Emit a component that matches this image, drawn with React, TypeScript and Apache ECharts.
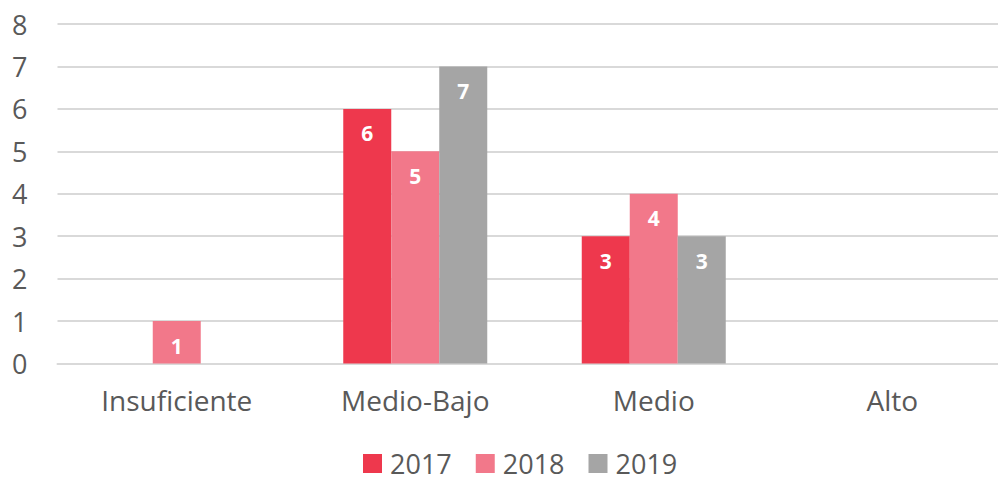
import React, { useEffect, useRef } from "react";
import * as echarts from "echarts";

const categories = ["Insuficiente", "Medio-Bajo", "Medio", "Alto"];
const seriesNames = ["2017", "2018", "2019"];
const values2017 = [0, 6, 3, 0];
const values2018 = [1, 5, 4, 0];
const values2019 = [0, 7, 3, 0];
const colors = ["#EE384D", "#F2788A", "#A5A5A5"];

export default function App() {
  const ref = useRef<HTMLDivElement>(null);
  useEffect(() => {
    const chart = echarts.init(ref.current!, null, { renderer: "svg" });
    const font = "'Open Sans', sans-serif";
    const data = [values2017, values2018, values2019];
    chart.setOption({
      animation: false,
      textStyle: { fontFamily: font },
      grid: { left: 57.5, top: 24, right: 0.5, bottom: 115.5, containLabel: false },
      legend: {
        top: 450,
        left: 363,
        padding: 0,
        itemWidth: 19,
        itemHeight: 19,
        itemGap: 24,
        icon: "rect",
        textStyle: { fontSize: 27, color: "#595959", fontFamily: font, padding: [0, 0, 0, 3] },
        data: seriesNames,
      },
      xAxis: {
        type: "category",
        data: categories,
        axisLine: { show: true, lineStyle: { color: "#D9D9D9", width: 2 } },
        axisTick: { show: false },
        axisLabel: { fontSize: 28, color: "#595959", margin: 22, fontFamily: font },
      },
      yAxis: {
        type: "value",
        min: 0,
        max: 8,
        interval: 1,
        axisLine: { show: false },
        axisTick: { show: false },
        splitLine: { lineStyle: { color: "#D9D9D9", width: 2 } },
        axisLabel: { fontSize: 27, color: "#595959", margin: 30, fontFamily: font },
      },
      series: seriesNames.map((name, i) => ({
        name,
        type: "bar",
        data: data[i],
        barWidth: 48,
        barGap: "0%",
        itemStyle: { color: colors[i] },
        label: {
          show: true,
          position: "insideTop",
          distance: 14,
          color: "#FFFFFF",
          fontWeight: "bold",
          fontSize: 21,
          fontFamily: font,
          formatter: (p: any) => (p.value === 0 ? "" : String(p.value)),
        },
      })),
    });
    return () => chart.dispose();
  }, []);
  return (
    <div
      ref={ref}
      style={{ position: "fixed", left: 0, top: 0, width: 1012, height: 479, background: "#fff" }}
    />
  );
}
